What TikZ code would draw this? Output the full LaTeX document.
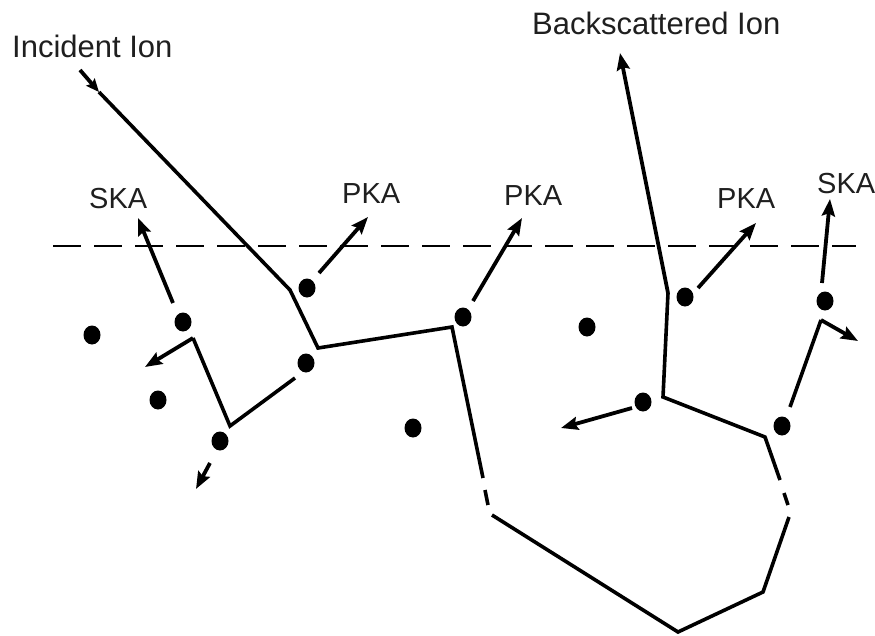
\documentclass[tikz,border=0pt]{standalone}
\usepackage{fontspec}
\setmainfont{Liberation Sans}
\usetikzlibrary{arrows.meta,shapes.geometric}
\begin{document}
\begin{tikzpicture}[x=1pt,y=-1pt,
  track/.style={line width=3.6pt, line join=miter},
  recoil/.style={line width=3.8pt, -{Stealth[length=17pt,width=13pt,inset=2.5pt]}},
  atom/.style={ellipse, fill=black, minimum width=17pt, minimum height=19pt, inner sep=0pt},
  lbl/.style={font=\fontsize{29}{34}\selectfont, text=black!88, anchor=base west, inner sep=0pt},
  ttl/.style={font=\fontsize{31}{36}\selectfont, text=black!88, anchor=base west, inner sep=0pt},
  surface/.style={line width=2.8pt, dash pattern=on 28pt off 13pt}]
\useasboundingbox (0,0) rectangle (875,635);

% labels
\node[ttl] (tinc) at (12,57) {Incident Ion};
\node[ttl] (tback) at (532,34) {Backscattered Ion};
\node[lbl] (ska1) at (89,208) {SKA};
\node[lbl] (pka1) at (342,203) {PKA};
\node[lbl] (pka2) at (504,205) {PKA};
\node[lbl] (pka3) at (717,208) {PKA};
\node[lbl] (ska2) at (817,193) {SKA};

% surface
\coordinate (sL) at (53,246);
\coordinate (sR) at (856,246);
\draw[surface] (sL) -- (sR);

% atoms
\node[atom] (a1) at (92,335) {};
\node[atom] (a2) at (158,400) {};
\node[atom] (a3) at (183,322) {};
\node[atom] (a4) at (306,363) {};
\node[atom] (a5) at (220,441) {};
\node[atom] (a6) at (307,288) {};
\node[atom] (a7) at (463,317) {};
\node[atom] (a8) at (413,428) {};
\node[atom] (a9) at (587,327) {};
\node[atom] (a10) at (643,402) {};
\node[atom] (a11) at (685,297) {};
\node[atom] (a12) at (782,426) {};
\node[atom] (a13) at (825,301) {};

% incident / backscattered ion track
\coordinate (i0) at (80,70);
\coordinate (i1) at (99,92);
\coordinate (iB) at (290,290);
\coordinate (iC) at (318,348);
\coordinate (iD) at (452,327);
\coordinate (iE) at (483,478);
\coordinate (g1a) at (485,490);
\coordinate (g1b) at (488,505);
\coordinate (iF) at (492,515);
\coordinate (iG) at (678,632);
\coordinate (iH) at (763,592);
\coordinate (iI) at (789,517);
\coordinate (g2a) at (788,505);
\coordinate (g2b) at (784,493);
\coordinate (iJ) at (780,480);
\coordinate (iK) at (765,437);
\coordinate (iL) at (663,397);
\coordinate (iM) at (668,293);
\coordinate (iN) at (620,53);

\draw[line width=3.8pt, -{Stealth[length=13pt,width=11pt,inset=2pt]}] (i0) -- (i1);
\draw[track] (i1) -- (iB) -- (iC) -- (iD) -- (iE);
\draw[track] (g1a) -- (g1b);
\draw[track] (iF) -- (iG) -- (iH) -- (iI);
\draw[track] (g2a) -- (g2b);
\draw[track] (iJ) -- (iK) -- (iL) -- (iM);
\draw[recoil] (iM) -- (iN);

% left SKA cascade
\coordinate (c1) at (295,378);
\coordinate (c2) at (230,426);
\coordinate (c3) at (193,338);
\coordinate (c4) at (145,367);
\draw[track] (c1) -- (c2) -- (c3);
\draw[recoil] (c3) -- (c4);
\coordinate (d1) at (173,303);
\coordinate (d2) at (138,218);
\draw[recoil] (d1) -- (d2);
\coordinate (e1) at (210,463);
\coordinate (e2) at (196,489);
\draw[recoil] (e1) -- (e2);

% PKA recoils
\coordinate (p1a) at (319,273);
\coordinate (p1b) at (368,217);
\draw[recoil] (p1a) -- (p1b);
\coordinate (p2a) at (473,301);
\coordinate (p2b) at (522,218);
\draw[recoil] (p2a) -- (p2b);
\coordinate (p3a) at (698,288);
\coordinate (p3b) at (756,223);
\draw[recoil] (p3a) -- (p3b);

% right side
\coordinate (b1) at (632,408);
\coordinate (b2) at (561,428);
\draw[recoil] (b1) -- (b2);
\coordinate (r1) at (790,407);
\coordinate (r2) at (821,320);
\coordinate (r3) at (858,341);
\draw[track] (r1) -- (r2);
\draw[recoil] (r2) -- (r3);
\coordinate (q1) at (822,283);
\coordinate (q2) at (830,199);
\draw[recoil] (q1) -- (q2);
\end{tikzpicture}
\end{document}
